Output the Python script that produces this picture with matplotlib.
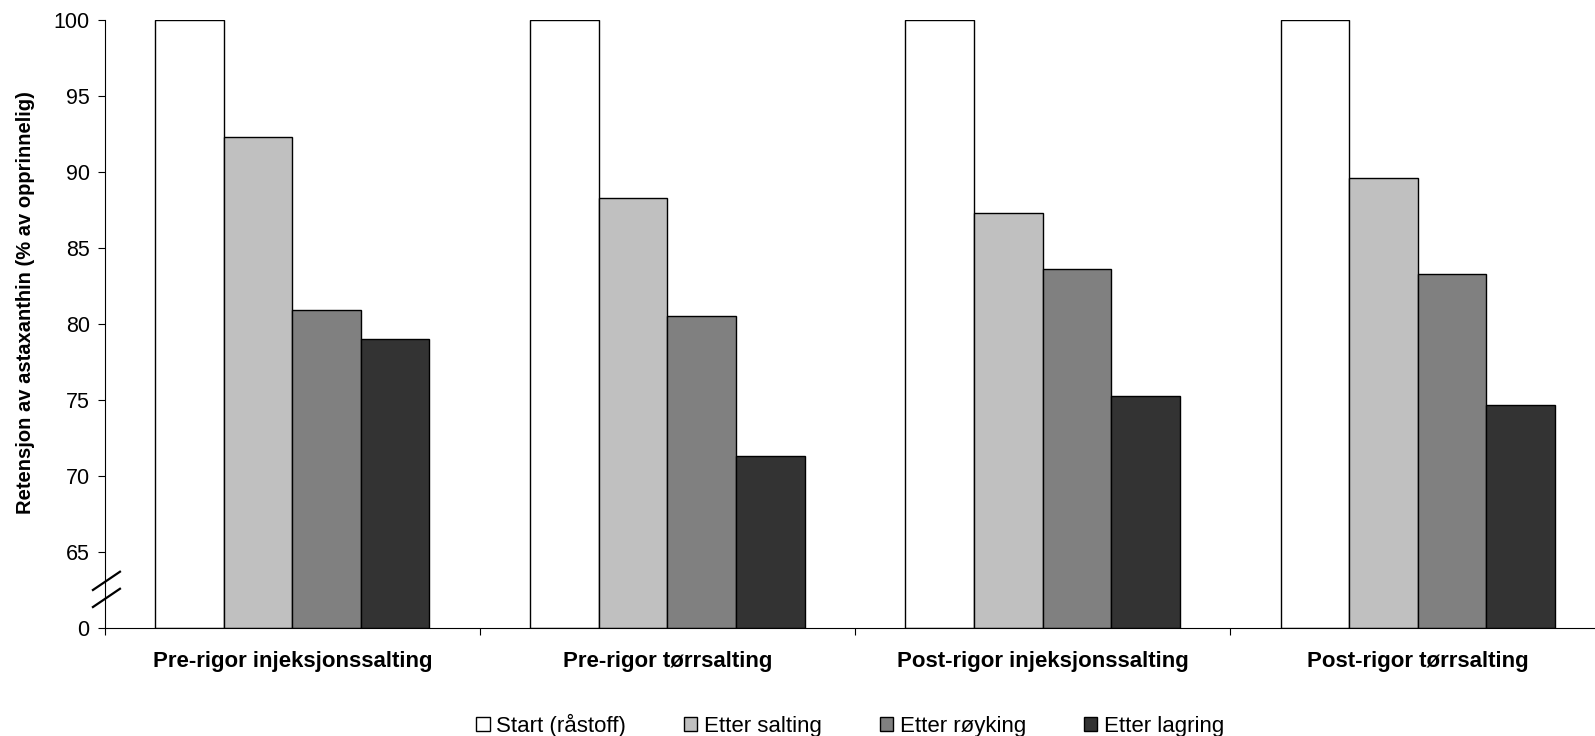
import matplotlib
matplotlib.use("Agg")
import matplotlib.pyplot as plt
import numpy as np

plt.rcParams['font.family'] = ['Liberation Sans', 'DejaVu Sans']

# data
categories = ['Pre-rigor injeksjonssalting', 'Pre-rigor tørrsalting',
              'Post-rigor injeksjonssalting', 'Post-rigor tørrsalting']
series_names = ['Start (råstoff)', 'Etter salting', 'Etter røyking', 'Etter lagring']
start = [100, 100, 100, 100]
salting = [92.3, 88.3, 87.3, 89.6]
royking = [80.9, 80.5, 83.6, 83.3]
lagring = [79.0, 71.3, 75.3, 74.7]
ytick_vals = [60, 65, 70, 75, 80, 85, 90, 95, 100]
ytick_labels = ['0', '65', '70', '75', '80', '85', '90', '95', '100']

colors = ['#FFFFFF', '#C0C0C0', '#808080', '#333333']
base = 60  # broken axis: bottom of the plot shows as 0

fig = plt.figure(figsize=(15.95, 7.36), dpi=100)
ax = fig.add_axes([0.0658, 0.1463, 0.9405, 0.8269])

x = np.arange(len(categories))
w = 0.1827
for i, vals in enumerate([start, salting, royking, lagring]):
    vals = np.array(vals, dtype=float)
    ax.bar(x + (i - 1.5) * w, vals - base, width=w, bottom=base,
           color=colors[i], edgecolor='black', linewidth=1.0,
           label=series_names[i])

ax.set_xlim(-0.5, 3.5)
ax.set_ylim(base, 100)
ax.set_yticks(ytick_vals)
ax.set_yticklabels(ytick_labels, fontsize=15.5)
ax.tick_params(axis='y', length=5, width=0.8, pad=6)

ax.set_xticks(x)
ax.set_xticklabels(categories, fontsize=16, fontweight='bold')
ax.set_xticks(np.arange(-0.5, 4, 1), minor=True)
ax.tick_params(axis='x', which='major', length=0, pad=16)
ax.tick_params(axis='x', which='minor', length=5, width=0.8)

ax.spines['top'].set_visible(False)
ax.spines['right'].set_visible(False)
ax.spines['left'].set_linewidth(0.8)
ax.spines['bottom'].set_linewidth(0.8)

ax.set_ylabel('Retensjon av astaxanthin (% av opprinnelig)', fontsize=14.5,
              fontweight='bold', va='center')
ax.yaxis.set_label_coords(-0.053, 0.536)

# axis break marks
for y0 in [0.035, 0.063]:
    ax.plot([-0.008, 0.010], [y0, y0 + 0.03], transform=ax.transAxes,
            color='black', linewidth=1.6, clip_on=False)

fig.legend(loc='center', bbox_to_anchor=(0.533, 0.0145), ncol=4, frameon=False,
           fontsize=16, handlelength=0.6, handleheight=0.6, handletextpad=0.3,
           columnspacing=2.6)

fig.savefig('out.png', dpi=100)
